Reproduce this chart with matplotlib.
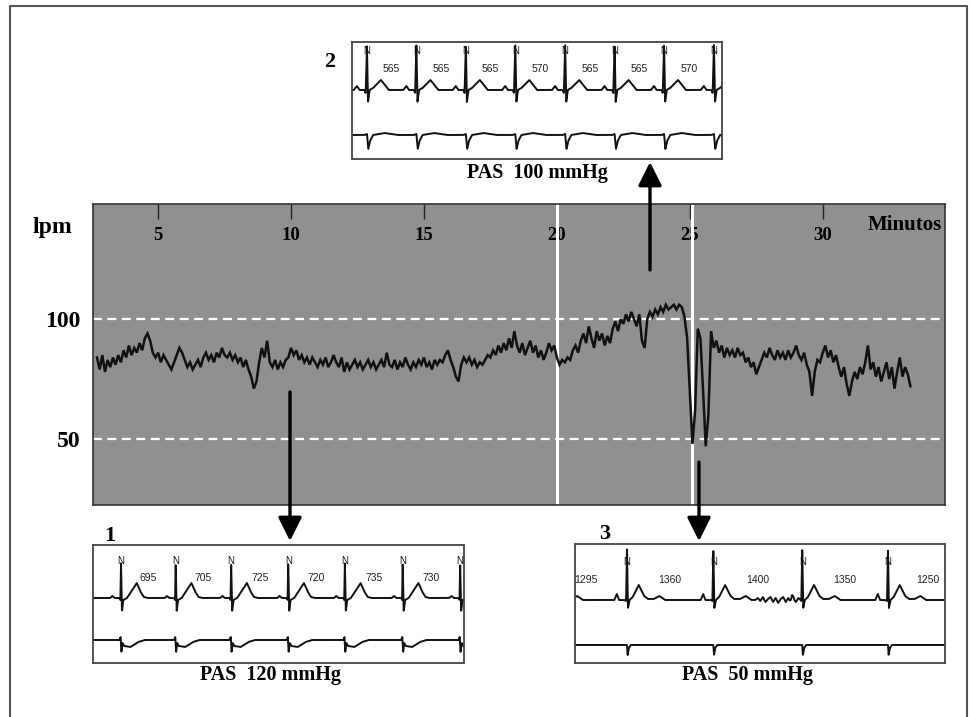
import numpy as np
import matplotlib.pyplot as plt
from matplotlib.patches import FancyArrowPatch

W, H = 971, 717

# heart rate trend (lpm), one reading every 0.1 min starting at minute 2.7
hr_start = 2.7
hr_step = 0.1
hr_bpm = [
    84, 79, 85, 78, 83, 80, 84, 81, 85, 82,
    87, 84, 89, 85, 88, 86, 90, 87, 92, 94,
    91, 86, 84, 86, 82, 85, 83, 81, 79, 82,
    85, 88, 86, 83, 80, 82, 79, 81, 83, 80,
    84, 86, 83, 85, 82, 86, 84, 88, 85, 84,
    86, 83, 85, 82, 84, 80, 83, 79, 76, 71,
    74, 82, 88, 84, 91, 82, 80, 83, 79, 82,
    80, 83, 84, 88, 85, 87, 83, 85, 82, 84,
    81, 84, 82, 80, 83, 81, 84, 80, 82, 85,
    82, 80, 84, 78, 82, 79, 81, 83, 80, 82,
    79, 81, 83, 80, 82, 79, 81, 83, 80, 86,
    81, 80, 83, 79, 82, 80, 84, 81, 79, 82,
    80, 83, 81, 84, 80, 82, 79, 83, 81, 83,
    82, 85, 87, 83, 80, 76, 74, 81, 84, 82,
    84, 81, 83, 80, 82, 81, 83, 85, 84, 87,
    85, 89, 86, 90, 87, 92, 88, 95, 89, 86,
    90, 85, 88, 91, 86, 89, 84, 87, 83, 86,
    90, 87, 89, 84, 81, 83, 82, 84, 83, 87,
    89, 86, 91, 94, 90, 97, 92, 88, 95, 91,
    94, 89, 93, 90, 96, 99, 95, 100, 98, 102,
    99, 103, 100, 97, 102, 91, 88, 100, 103, 101,
    104, 102, 105, 103, 106, 104, 105, 106, 104, 106,
    105, 101, 92, 70, 48, 62, 96, 92, 70, 47,
    60, 95, 88, 91, 86, 89, 84, 88, 85, 87,
    84, 88, 85, 86, 82, 84, 80, 82, 77, 80,
    83, 86, 84, 88, 85, 83, 87, 84, 86, 83,
    87, 84, 86, 89, 85, 83, 86, 81, 78, 68,
    78, 83, 82, 86, 89, 84, 87, 82, 85, 80,
    76, 80, 73, 68, 74, 78, 75, 80, 77, 82,
    89, 79, 82, 76, 80, 74, 78, 82, 75, 80,
    71, 78, 84, 76, 80, 77, 72,
]
minute_ticks = [5, 10, 15, 20, 25, 30]
ref_bpm = [50, 100]
event_min = [20.0, 25.1]

# ECG strips: RR intervals (ms) and beat templates (ms from R, amplitude px)
ins1_rr = [695, 705, 725, 720, 735, 730]
ins2_rr = [565, 565, 565, 570, 565, 565, 570]
ins3_rr = [1295, 1360, 1400, 1350, 1250]

ins1_up_t = [-140, -110, -80, -20, -8, 0, 12, 30, 76, 200, 250, 290, 340]
ins1_up_a = [0, 2, 0, 0, -2, 35, -13, -2, 0, 15, 6, 1, 0]
ins1_lo_t = [-20, -5, 5, 20, 40, 120, 220, 300]
ins1_lo_a = [0, 3, -12, -3, -6, -7, -2, 0]

ins2_up_t = [-150, -115, -85, -30, -15, 0, 12, 30, 70, 160, 250, 290]
ins2_up_a = [0, 4, 0, 0, -3, 45, -12, 0, 2, 10, 0, 0]
ins2_lo_t = [-30, 0, 15, 35, 70, 200, 350]
ins2_lo_a = [0, 1, -14, -6, 0, 2, 0]

ins3_up_t = [-200, -160, -125, -40, -15, 0, 15, 40, 90, 185, 270, 330, 420, 510, 600]
ins3_up_a = [0, 6, 0, 0, -1, 51, -8, 0, 3, 15, 4, 1, 1, 4, 0]
ins3_lo_t = [-20, 0, 10, 30, 60, 150]
ins3_lo_a = [0, 0, -10, -3, 0, 0]
ins3_art_t = [2020, 2060, 2100, 2140, 2180, 2220, 2260, 2300, 2340, 2380,
              2420, 2460, 2500, 2540, 2580, 2620, 2660, 2700, 2740]
ins3_art_a = [0, 2, -1, 3, -2, 1, 3, -2, 2, -3, 1, 3, -2, 2, -3, 1, -2, 2, 0]

SERIF = 'Liberation Serif'
SANS = 'Liberation Sans'


def fig_rect(x0, y0, x1, y1):
    return [x0 / W, 1 - y1 / H, (x1 - x0) / W, (y1 - y0) / H]


def beat_times(rr, first_offset=0):
    b = np.concatenate([[0], np.cumsum(rr)])
    return b - b[first_offset]


def strip(t, beats, tt, aa):
    sig = np.zeros_like(t)
    for b in beats:
        sig += np.interp(t, b + np.array(tt), aa, left=0, right=0)
    return sig


def draw_strip(fig, rect, xlim, ylim_top, rr, first, up, lo, base_up, base_lo,
               n_y, lab_y, art=None):
    ax = fig.add_axes(rect)
    t = np.linspace(xlim[0], xlim[1], 4000)
    beats = beat_times(rr, first)
    s_up = strip(t, beats, *up)
    if art is not None:
        s_up += np.interp(t, art[0], art[1], left=0, right=0)
    s_lo = strip(t, beats, *lo)
    ax.plot(t, base_up + s_up, color='#111', lw=1.4)
    ax.plot(t, base_lo + s_lo, color='#111', lw=1.4)
    for b in beats:
        if xlim[0] < b < xlim[1]:
            ax.text(b, n_y, 'N', ha='center', va='center', fontsize=7,
                    family=SANS, color='#111')
    for b0, b1, r in zip(beats[:-1], beats[1:], rr):
        ax.text((b0 + b1) / 2, lab_y, str(r), ha='center', va='center',
                fontsize=7.5, family=SANS, color='#222', clip_on=True)
    ax.set_xlim(*xlim)
    ax.set_ylim(0, ylim_top)
    ax.set_xticks([])
    ax.set_yticks([])
    for sp in ax.spines.values():
        sp.set_color('#444')
        sp.set_linewidth(1.3)
    return ax


fig = plt.figure(figsize=(W / 100, H / 100), dpi=100)

# main heart-rate panel
ax = fig.add_axes(fig_rect(93, 204, 945, 505))
ax.set_facecolor('#909090')
hr_t = hr_start + hr_step * np.arange(len(hr_bpm))
for v in ref_bpm:
    ax.axhline(v, color='white', lw=1.6, dashes=(4, 2.5))
for v in event_min:
    ax.axvline(v, color='white', lw=2.2)
ax.plot(hr_t, hr_bpm, color='#111', lw=1.8, solid_joinstyle='miter')
ax.set_xlim(2.55, 34.6)
ax.set_ylim(22.5, 148)
ax.xaxis.tick_top()
ax.set_xticks(minute_ticks)
ax.set_xticklabels([str(m) for m in minute_ticks], fontweight='bold',
                   family=SERIF, fontsize=13.5)
ax.tick_params(axis='x', direction='in', length=11, width=1, color='#222',
               pad=-29)
ax.set_yticks(ref_bpm)
ax.set_yticklabels([str(v) for v in ref_bpm], fontweight='bold',
                   family=SERIF, fontsize=17)
ax.tick_params(axis='y', length=0, pad=9)
for sp in ax.spines.values():
    sp.set_color('#333')
    sp.set_linewidth(1.2)

# ECG strips
draw_strip(fig, fig_rect(93, 545, 464, 663), (-356, 4359), 118, ins1_rr, 0,
           (ins1_up_t, ins1_up_a), (ins1_lo_t, ins1_lo_a), 65, 23, 102, 85)
draw_strip(fig, fig_rect(352, 42, 722, 159), (-171, 4057), 117, ins2_rr, 0,
           (ins2_up_t, ins2_up_a), (ins2_lo_t, ins2_lo_a), 69, 24, 108, 90)
draw_strip(fig, fig_rect(575, 544, 945, 663), (-819, 5008), 119, ins3_rr, 1,
           (ins3_up_t, ins3_up_a), (ins3_lo_t, ins3_lo_a), 63, 18, 101, 83,
           art=(ins3_art_t, ins3_art_a))

# overlay in pixel coordinates: frame, arrows, labels
ov = fig.add_axes([0, 0, 1, 1], zorder=10)
ov.set_xlim(0, W)
ov.set_ylim(H, 0)
ov.axis('off')
ov.patch.set_alpha(0)
ov.plot([10, 10, 967, 967], [H + 5, 6, 6, H + 5], color='#555', lw=1.5,
        clip_on=False)

for (x, y0, y1) in [(290, 392, 541), (650, 270, 162), (699, 462, 541)]:
    ov.add_patch(FancyArrowPatch((x, y0), (x, y1),
                                 arrowstyle='-|>,head_length=0.9,head_width=0.45',
                                 mutation_scale=16, lw=2.4, color='black',
                                 shrinkA=0, shrinkB=0))

ov.text(52, 228, 'lpm', ha='center', va='center', fontsize=17,
        fontweight='bold', family=SERIF)
ov.text(942, 225, 'Minutos', ha='right', va='center', fontsize=15,
        fontweight='bold', family=SERIF)
for lab, x, y in [('1', 110, 536), ('2', 330, 62), ('3', 605, 534)]:
    ov.text(x, y, lab, ha='center', va='center', fontsize=16,
            fontweight='bold', family=SERIF)
for cap, x, y in [('PAS  120 mmHg', 270, 675), ('PAS  100 mmHg', 537, 173),
                  ('PAS  50 mmHg', 747, 675)]:
    ov.text(x, y, cap, ha='center', va='center', fontsize=14.5,
            fontweight='bold', family=SERIF)

fig.savefig('out.png', dpi=100, facecolor='white')
